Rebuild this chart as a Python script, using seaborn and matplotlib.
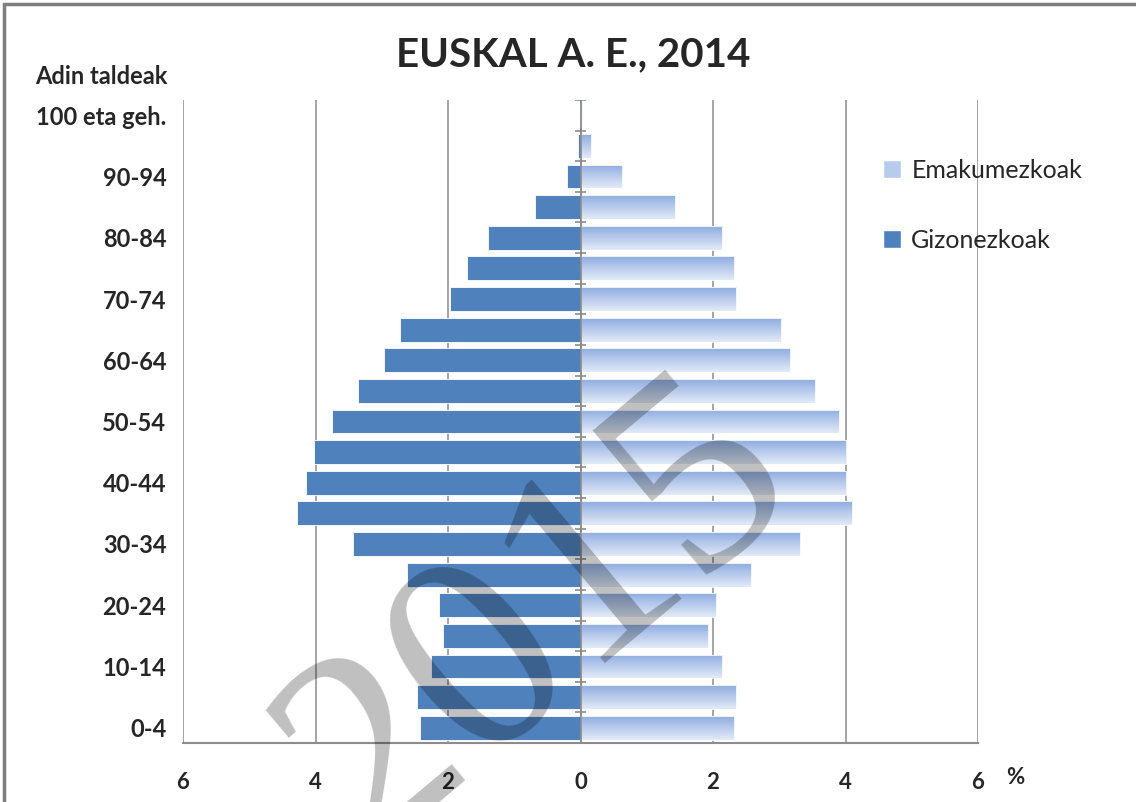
import matplotlib
matplotlib.use("Agg")
import matplotlib.pyplot as plt
import matplotlib.patches as mpatches
import numpy as np
import pandas as pd
import seaborn as sns

# ---- data (percent of population) ----
ages = ["0-4", "5-9", "10-14", "15-19", "20-24", "25-29", "30-34", "35-39",
        "40-44", "45-49", "50-54", "55-59", "60-64", "65-69", "70-74",
        "75-79", "80-84", "85-89", "90-94", "95-99", "100 eta geh."]
men = [2.43, 2.47, 2.25, 2.07, 2.14, 2.62, 3.43, 4.28, 4.15, 4.03, 3.75,
       3.36, 2.97, 2.73, 1.97, 1.71, 1.39, 0.69, 0.21, 0.04, 0.01]
women = [2.31, 2.34, 2.14, 1.92, 2.05, 2.58, 3.32, 4.10, 4.00, 4.00, 3.90,
         3.54, 3.16, 3.03, 2.34, 2.31, 2.14, 1.42, 0.62, 0.16, 0.02]
xticks = [-6, -4, -2, 0, 2, 4, 6]
title = "EUSKAL A. E., 2014"
label_women = "Emakumezkoak"
label_men = "Gizonezkoak"

sns.set_theme(style="white")
plt.rcParams["font.family"] = ["Lato", "DejaVu Sans"]

df = pd.DataFrame({"age": ages, "men": [-v for v in men], "women": women})
order = ages[::-1]

fig = plt.figure(figsize=(11.36, 8.02), dpi=100)
ax = fig.add_axes([183 / 1136, 1 - 743 / 802, (978 - 183) / 1136, (743 - 100) / 802])

MEN_C = "#4F81BD"
sns.barplot(data=df, x="men", y="age", order=order, orient="h", color=MEN_C,
            saturation=1, width=0.78, edgecolor="white", linewidth=0.6, ax=ax, zorder=2)
sns.barplot(data=df, x="women", y="age", order=order, orient="h", color="#B7CBEC",
            saturation=1, width=0.78, edgecolor="white", linewidth=0.6, ax=ax, zorder=2)

ax.set_xlim(-6, 6)
n = len(ages)
ax.set_ylim(n - 0.5, -0.5)

# gradient fill for women bars
top_c = np.array(matplotlib.colors.to_rgb("#8FADE0"))
bot_c = np.array(matplotlib.colors.to_rgb("#E2EAF7"))
grad = np.linspace(0, 1, 64)[:, None, None]
img = top_c[None, None, :] * (1 - grad) + bot_c[None, None, :] * grad
women_patches = ax.containers[1].patches if len(ax.containers) > 1 else []
for p in women_patches:
    x0, y0 = p.get_x(), p.get_y()
    w, h = p.get_width(), p.get_height()
    im = ax.imshow(img, extent=(x0, x0 + w, y0 + h, y0), origin="upper",
                   aspect="auto", zorder=2.1, interpolation="bilinear")
    im.set_clip_path(p)
    p.set_facecolor("none")
    p.set_zorder(2.2)
ax.set_xlim(-6, 6)
ax.set_ylim(n - 0.5, -0.5)

# grid lines
GRID = "#8C8C8C"
for xv in xticks:
    ax.axvline(xv, color=GRID, lw=1.1, zorder=1)
ax.axvline(0, color=GRID, lw=1.3, zorder=3)
# small boundary ticks on the central axis
bounds = np.arange(-0.5, n, 1.0)
ax.hlines(bounds, -0.08, 0.08, color=GRID, lw=1.2, zorder=3)

for s in ["top", "right", "left"]:
    ax.spines[s].set_visible(False)
ax.spines["bottom"].set_color(GRID)
ax.spines["bottom"].set_linewidth(1.5)

ax.set_xticks(xticks)
ax.set_xticklabels([str(abs(v)) for v in xticks], fontsize=16, fontweight="bold")
ax.tick_params(axis="x", direction="out", length=8, width=1.1, color=GRID, pad=13)

ax.set_yticks(range(n))
ax.set_yticklabels([lab if (ages.index(lab) % 2 == 0) else "" for lab in order],
                   fontsize=17, fontweight="bold")
ax.tick_params(axis="y", length=0, pad=12)
ax.set_xlabel("")
ax.set_ylabel("")

# texts
fig.text(573 / 1136, 1 - 55 / 802, title, ha="center", va="center",
         fontsize=29, fontweight="bold")
fig.text(101 / 1136, 1 - 77 / 802, "Adin taldeak", ha="center", va="center",
         fontsize=17, fontweight="bold")
fig.text(1015 / 1136, 1 - 777 / 802, "%", ha="center", va="center",
         fontsize=16, fontweight="bold")

# legend
h_w = mpatches.Patch(facecolor="#B7CBEC", edgecolor="white")
h_m = mpatches.Patch(facecolor=MEN_C, edgecolor="white")
fig.legend([h_w, h_m], [label_women, label_men], loc="upper left",
           bbox_to_anchor=(860 / 1136, 1 - 136 / 802), frameon=False,
           fontsize=18, handlelength=0.75, handleheight=0.75, labelspacing=1.9,
           handletextpad=0.4)

# watermark
fig.text(540 / 1136, 1 - 618 / 802, "2015", ha="center", va="center",
         rotation=40, rotation_mode="anchor", fontsize=205,
         family=["Liberation Serif", "DejaVu Serif"], color="black", alpha=0.25,
         zorder=10)

# outer frame
fig.patches.append(mpatches.Rectangle((4 / 1136, -0.1), 1.2, 1 - 4 / 802 + 0.1,
                                      transform=fig.transFigure, fill=False,
                                      edgecolor="#7F7F7F", lw=2.5, zorder=0))

fig.savefig("out.png", dpi=100)
